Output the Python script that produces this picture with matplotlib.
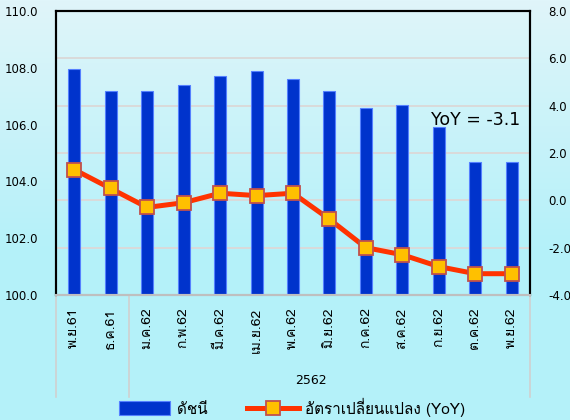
import numpy as np
import matplotlib
matplotlib.use("Agg")
import matplotlib.pyplot as plt
from matplotlib import font_manager
from matplotlib.ft2font import FT2Font
from matplotlib.transforms import blended_transform_factory

months = ["พ.ย.61", "ธ.ค.61", "ม.ค.62", "ก.พ.62", "มี.ค.62", "เม.ย.62", "พ.ค.62",
          "มิ.ย.62", "ก.ค.62", "ส.ค.62", "ก.ย.62", "ต.ค.62", "พ.ย.62"]
index_vals = [107.97, 107.2, 107.2, 107.38, 107.7, 107.87, 107.6,
              107.17, 106.6, 106.68, 105.9, 104.69, 104.69]
yoy_vals = [1.3, 0.5, -0.3, -0.1, 0.3, 0.2, 0.3,
            -0.8, -2.0, -2.3, -2.8, -3.1, -3.1]
left_ticks = [100, 102, 104, 106, 108, 110]
right_ticks = [-4, -2, 0, 2, 4, 6, 8]
group_label = "2562"


# find an installed font that has Thai glyphs
def thai_font():
    for f in font_manager.fontManager.ttflist:
        try:
            if ord("ก") in FT2Font(f.fname).get_charmap():
                return f.name
        except Exception:
            pass
    return "DejaVu Sans"


thai = thai_font()
plt.rcParams["font.family"] = [thai, "DejaVu Sans"]

fig = plt.figure(figsize=(5.7, 4.2), dpi=100)

# background gradient
bg = fig.add_axes([0, 0, 1, 1], zorder=-10)
top = np.array([224, 245, 250]) / 255
bottom = np.array([180, 241, 249]) / 255
t = np.clip(np.linspace(0, 1, 420) / 0.6, 0, 1)[:, None]
grad = top * (1 - t) + bottom * t
bg.imshow(grad[:, None, :], aspect="auto", extent=[0, 1, 0, 1])
bg.axis("off")

ax = fig.add_axes([56 / 570, 125 / 420, 474 / 570, 284 / 420])
ax.patch.set_alpha(0)
x = np.arange(len(months))

# grid lines belong to the right axis, drawn behind the bars
for rt in right_ticks[1:-1]:
    ax.axhline(100 + (rt + 4) / 12 * 10, color="#dadada", lw=1.4, zorder=0)

ax.bar(x, index_vals, width=0.33, color="#0033cc", edgecolor="#5580ff",
       linewidth=0.8, zorder=2, label="ดัชนี")
ax.set_ylim(100, 110)
ax.set_xlim(-0.5, len(months) - 0.5)
ax.set_yticks(left_ticks)
ax.set_yticklabels(["%.1f" % v for v in left_ticks], family="DejaVu Sans")
ax.set_xticks(x)
ax.set_xticklabels(months, rotation=90, fontsize=10)
ax.tick_params(axis="y", length=0, pad=13, labelsize=8.5)
ax.tick_params(axis="x", length=0, pad=9)

ax2 = ax.twinx()
ax2.plot(x, yoy_vals, color="#ff3300", lw=3.6, marker="s", markersize=9.5,
         markerfacecolor="#ffc000", markeredgecolor="#c0504d",
         markeredgewidth=1.3, label="อัตราเปลี่ยนแปลง (YoY)", zorder=3)
ax2.set_ylim(-4, 8)
ax2.set_yticks(right_ticks)
ax2.set_yticklabels(["%.1f" % v for v in right_ticks], family="DejaVu Sans")
ax2.tick_params(axis="y", length=0, pad=13, labelsize=8.5)

for a in (ax, ax2):
    a.spines["left"].set_color("black")
    a.spines["left"].set_linewidth(1.5)
    a.spines["right"].set_color("black")
    a.spines["right"].set_linewidth(1.5)
    a.spines["top"].set_color("black")
    a.spines["top"].set_linewidth(1.5)
    a.spines["bottom"].set_color("#bfbfbf")
    a.spines["bottom"].set_linewidth(1.5)

ax.text(0.886, 0.616, "YoY = -3.1", transform=ax.transAxes, ha="center",
        va="center", fontsize=12.5, family="DejaVu Sans", zorder=5)

# multi-level category separators and year label
tr = blended_transform_factory(ax.transData, ax.transAxes)
for sx in [-0.5, 1.5, len(months) - 0.5]:
    ax.plot([sx, sx], [0, -102 / 284], color="#d0d0d0", lw=1.2,
            transform=tr, clip_on=False)
ax.text(6.5, -85 / 284, group_label, transform=tr, ha="center", va="center",
        fontsize=9, family="DejaVu Sans")

h1, l1 = ax.get_legend_handles_labels()
h2, l2 = ax2.get_legend_handles_labels()
fig.legend(h1 + h2, l1 + l2, loc="center", bbox_to_anchor=(0.512, 0.031),
           ncol=2, frameon=False, fontsize=11, handlelength=3.4,
           handleheight=1.0, handletextpad=0.4, columnspacing=2.6)

fig.savefig("out.png", dpi=100)
